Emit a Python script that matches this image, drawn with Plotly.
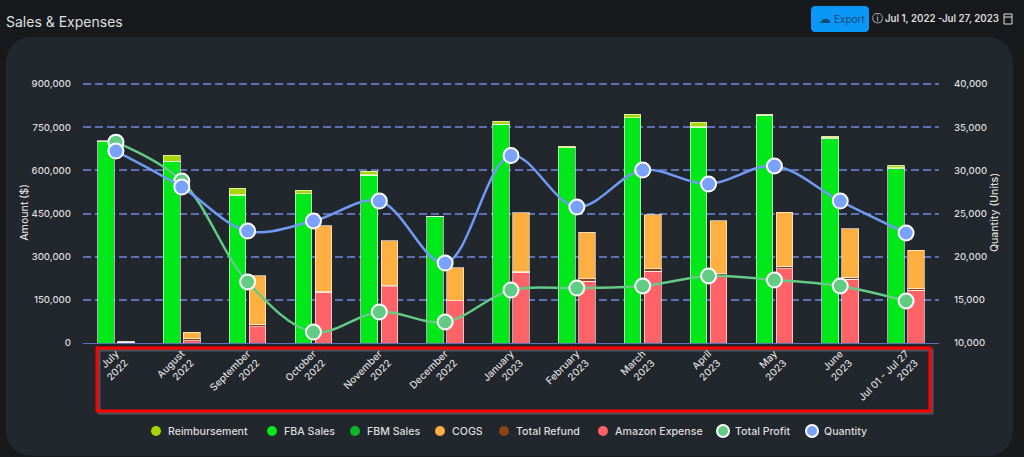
import plotly.graph_objects as go

months = ["July<br>2022", "August<br>2022", "September<br>2022", "October<br>2022", "November<br>2022",
          "December<br>2022", "January<br>2023", "February<br>2023", "March<br>2023", "April<br>2023",
          "May<br>2023", "June<br>2023", "Jul 01 - Jul 27<br>2023"]
fba_sales = [700000, 630000, 514000, 518000, 583000, 438000, 760000, 678000, 782000, 750000, 792000, 712000, 608000]
fbm_sales = [0, 1000, 1000, 1000, 1000, 500, 1000, 1000, 1000, 1000, 500, 1000, 1000]
reimbursement = [2000, 22000, 23000, 12000, 13000, 0, 10000, 5000, 12000, 16000, 3000, 6000, 9000]
amazon_expense = [2000, 7000, 56000, 176000, 195000, 146000, 246000, 215000, 250000, 230000, 258000, 222000, 184000]
total_refund = [3000, 7000, 9000, 2000, 5000, 1000, 2000, 8000, 8000, 10000, 8000, 7000, 4000]
cogs = [0, 23000, 168000, 229000, 155000, 114000, 204000, 162000, 187000, 184000, 189000, 168000, 135000]
total_profit = [698000, 563000, 212000, 38000, 108000, 73000, 184000, 191000, 198000, 233000, 219000, 198000, 146000]
quantity = [32230, 28060, 22970, 24130, 26440, 19260, 31710, 25750, 30030, 28410, 30500, 26440, 22740]
left_ticks = [0, 150000, 300000, 450000, 600000, 750000, 900000]
right_ticks = [10000, 15000, 20000, 25000, 30000, 35000, 40000]
legend_names = ["Reimbursement", "FBA Sales", "FBM Sales", "COGS", "Total Refund", "Amazon Expense", "Total Profit", "Quantity"]
legend_colors = ["#a8d400", "#00e71a", "#09b52a", "#ffb040", "#8b4419", "#ff6368", "#62cc84", "#78a2fb"]
legend_centers = [156, 272, 355, 440, 504, 603, 723, 812]

W, H = 1024, 457
ML, MR, MT, MB = 83, 85, 82, 114
FONT = "Inter"
TXT = "#dcddde"
PW, PH = W - ML - MR, H - MT - MB
HEADROOM = PH / (PH - 2)   # two spare pixels so the top gridline is not clipped away
fx = lambda p: (p - ML) / PW
fy = lambda p: (H - MB - p) / PH


def rrect(x0, y0, x1, y1, r):
    k = r * 0.45
    pts = [("M", x0 + r, y0), ("L", x1 - r, y0), ("C", x1 - k, y0, x1, y0 + k, x1, y0 + r), ("L", x1, y1 - r),
           ("C", x1, y1 - k, x1 - k, y1, x1 - r, y1), ("L", x0 + r, y1), ("C", x0 + k, y1, x0, y1 - k, x0, y1 - r),
           ("L", x0, y0 + r), ("C", x0, y0 + k, x0 + k, y0, x0 + r, y0)]
    out = []
    for p in pts:
        c = p[1:]
        out.append(p[0] + " ".join(f"{fx(c[i]):.5f},{fy(c[i + 1]):.5f}" for i in range(0, len(c), 2)))
    return " ".join(out) + " Z"


def box(x0, y0, x1, y1, kind="rect", **kw):
    return dict(type=kind, xref="paper", yref="paper", x0=fx(x0), x1=fx(x1), y0=fy(y1), y1=fy(y0), **kw)


def note(x, y, text, size=10, color=TXT, anchor="left", family=FONT, weight=400):
    return dict(xref="paper", yref="paper", x=fx(x), y=fy(y), text=text, showarrow=False, xanchor=anchor,
                yanchor="middle", font=dict(size=size, color=color, family=family, weight=weight), borderpad=0)


fig = go.Figure()
edge = dict(color="rgba(255,255,255,0.62)", width=1)


def bars(name, values, color, group):
    fig.add_bar(name=name, x=months, y=values, offsetgroup=group, marker=dict(color=color, line=edge),
                showlegend=False, yaxis="y")


bars("FBA Sales", fba_sales, "#00e71a", "sales")
bars("FBM Sales", fbm_sales, "#09b52a", "sales")
bars("Reimbursement", reimbursement, "#a8d400", "sales")
bars("Amazon Expense", amazon_expense, "#ff6368", "costs")
bars("Total Refund", total_refund, "#8b4419", "costs")
bars("COGS", cogs, "#ffb040", "costs")

fig.add_scatter(name="Total Profit", x=months, y=total_profit, mode="lines+markers", yaxis="y", showlegend=False,
                line=dict(color="#62cc84", width=2.5, shape="spline", smoothing=1),
                marker=dict(size=15, color="#62cc84", line=dict(color="white", width=2)))
fig.add_scatter(name="Quantity", x=months, y=quantity, mode="lines+markers", yaxis="y2", showlegend=False,
                line=dict(color="#6f9bf5", width=2.5, shape="spline", smoothing=1),
                marker=dict(size=15, color="#78a2fb", line=dict(color="white", width=2)))

shapes = [
    dict(type="path", xref="paper", yref="paper", path=rrect(6, 37, 1013, 456, 25), fillcolor="#22262d",
         line=dict(width=0), layer="below"),
    box(99, 350, 932, 413, line=dict(color="#50535a", width=3), layer="below"),
    box(97, 348, 930, 411, line=dict(color="#ff0000", width=3), layer="below"),
    dict(type="path", xref="paper", yref="paper", path=rrect(811, 6, 869, 32, 4), fillcolor="#0a97f7",
         line=dict(width=0), layer="below"),
    box(1004, 14, 1012, 24, line=dict(color=TXT, width=1), layer="below"),
    box(1004, 17, 1012, 17, kind="line", line=dict(color=TXT, width=1), layer="below"),
]
annotations = [
    note(5, 21, "Sales &amp; Expenses", size=14, color="#dfe0e1"),
    note(833, 19, "Export", size=10, color="#15486f"),
    note(818, 19, "☁", size=12, color="#15486f", family="DejaVu Sans"),
    note(871, 19, "ⓘ", size=11, color=TXT, family="DejaVu Sans"),
    note(884, 19, "Jul 1, 2022 -Jul 27, 2023", size=9.7, color=TXT, weight=600),
]
for name, color, cx in zip(legend_names, legend_colors, legend_centers):
    ringed = name in ("Total Profit", "Quantity")
    r = 6 if ringed else 5
    shapes.append(box(cx - r, 431 - r, cx + r, 431 + r, kind="circle", fillcolor=color,
                      line=dict(color="white" if ringed else color, width=2 if ringed else 0), layer="below"))
    annotations.append(note(cx + 11, 431, name, size=10.6, weight=500))

fig.update_layout(
    width=W, height=H, autosize=False, margin=dict(l=ML, r=MR, t=MT, b=MB, pad=0),
    paper_bgcolor="#17191c", plot_bgcolor="rgba(0,0,0,0)", barmode="stack", bargap=0.39, bargroupgap=0.17,
    font=dict(family=FONT, size=10, color=TXT), shapes=shapes, annotations=annotations, showlegend=False,
    xaxis=dict(type="category", range=[-0.5, 12.5], tickangle=-45, ticks="", showgrid=False, zeroline=False,
               showline=True, linecolor="#5f6fb3", linewidth=1, tickfont=dict(size=10, color=TXT, weight=500),
               automargin=False),
    yaxis=dict(range=[0, 900000 * HEADROOM], tickvals=left_ticks, tickformat=",d", gridcolor="#5f6fb3",
               griddash="8px,4px", gridwidth=1.6, zeroline=False, ticklabelstandoff=11,
               tickfont=dict(size=9.6, weight=500),
               title=dict(text="Amount ($)", standoff=0, font=dict(size=10.5, weight=500)), ticks="", automargin=False),
    yaxis2=dict(range=[10000, 10000 + 30000 * HEADROOM], overlaying="y", side="right", tickvals=right_ticks,
                tickformat=",d", showgrid=False, zeroline=False, ticklabelstandoff=14,
                tickfont=dict(size=9.6, weight=500),
                title=dict(text="Quantity (Units)", standoff=4, font=dict(size=10.5, weight=500)), ticks="",
                automargin=False),
)
fig.write_html("out.html", config={"displayModeBar": False},
               post_script="document.body.style.margin='0';document.body.style.overflow='hidden';document.body.style.background='#17191c';")
